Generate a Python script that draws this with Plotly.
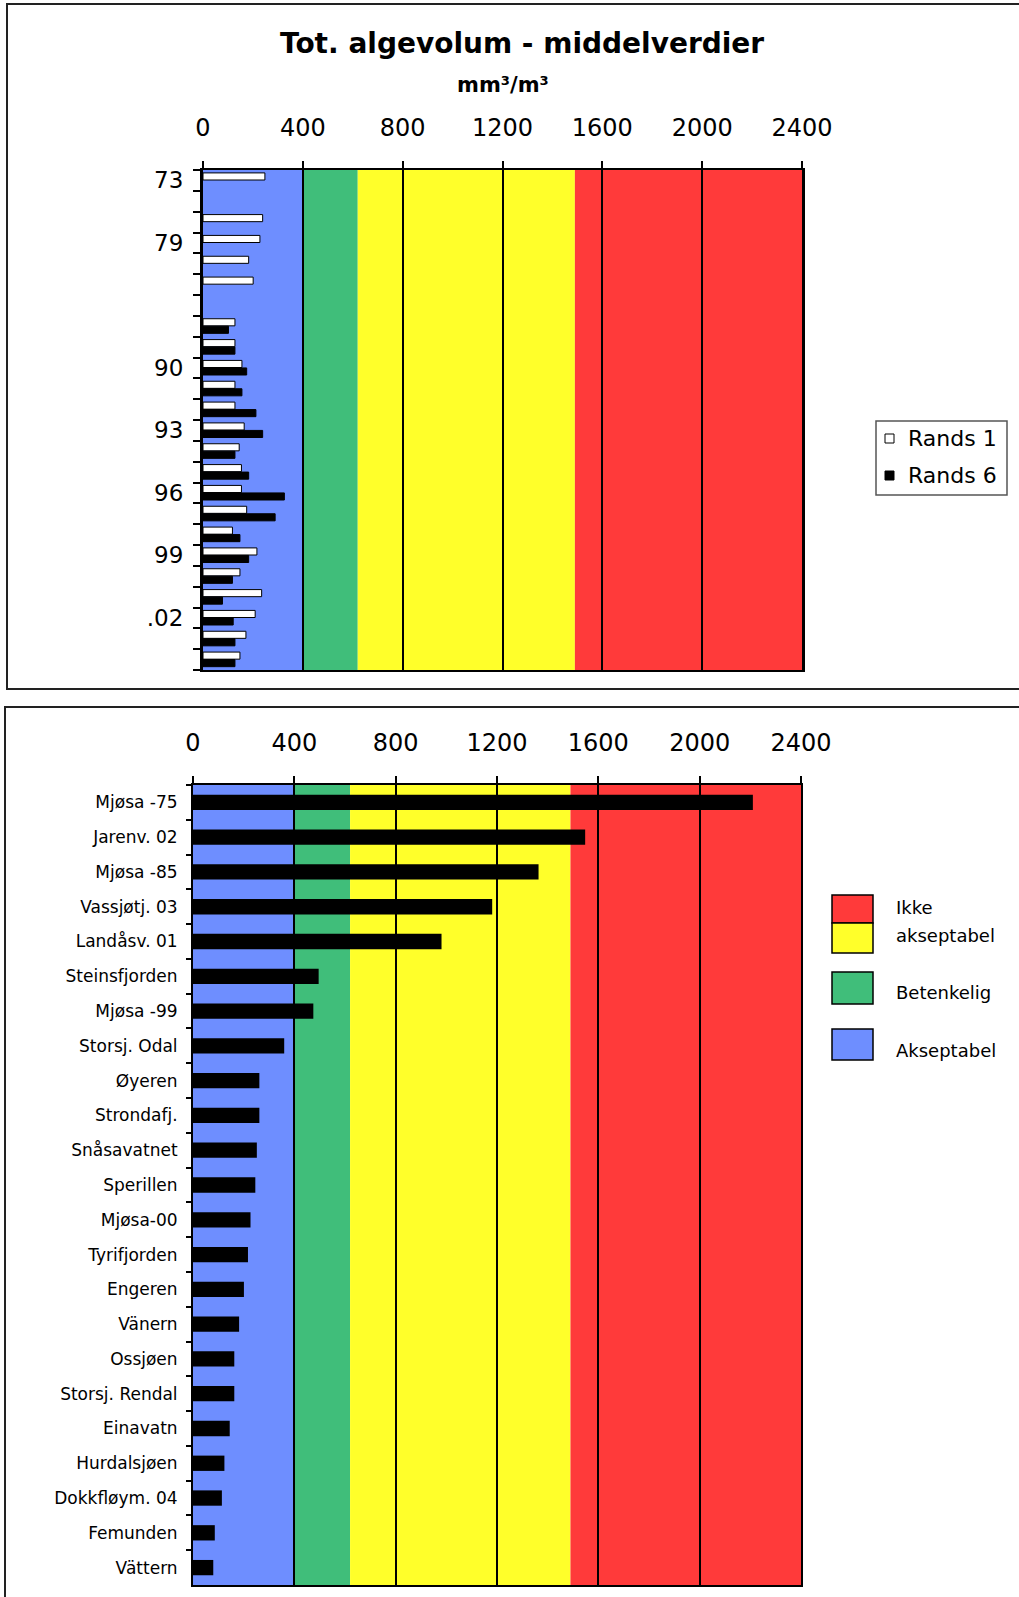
import plotly.graph_objects as go

# ---------------- data ----------------
YEAR_CATS = ["73", "75", "78", "79", "80", "81", "87", "88", "89", "90", "91", "92",
             "93", "94", "95", "96", "97", "98", "99", "00", "01", "02", "03", "04"]
YEAR_TICKS = ["73", "", "", "79", "", "", "", "", "", "90", "", "",
              "93", "", "", "96", "", "", "99", "", "", ".02", "", ""]
RANDS1 = [248, None, 239, 228, 183, 201, None, 128, 128, 156, 128, 128,
          165, 145, 154, 154, 175, 118, 216, 148, 235, 209, 172, 148]
RANDS6 = [None, None, None, None, None, None, None, 102, 128, 175, 156, 212,
          239, 128, 183, 326, 289, 148, 183, 118, 78, 121, 128, 128]
SERIES_NAMES = ["Rands 1", "Rands 6"]

LAKES = ["Mjøsa -75", "Jarenv. 02", "Mjøsa -85", "Vassjøtj. 03", "Landåsv. 01",
         "Steinsfjorden", "Mjøsa -99", "Storsj. Odal", "Øyeren", "Strondafj.",
         "Snåsavatnet", "Sperillen", "Mjøsa-00", "Tyrifjorden", "Engeren", "Vänern",
         "Ossjøen", "Storsj. Rendal", "Einavatn", "Hurdalsjøen", "Dokkfløym. 04",
         "Femunden", "Vättern"]
LAKE_VALUES = [2210, 1548, 1364, 1181, 981, 496, 475, 360, 262, 262, 252, 246, 227,
               217, 201, 182, 163, 163, 145, 124, 114, 86, 80]

X_TICKS = [0, 400, 800, 1200, 1600, 2000, 2400]
ZONE_EDGES = [0, 400, 620, 1490, 2400]
ZONE_COLORS = ["#6E8EFF", "#40BE7A", "#FFFF2A", "#FF3A3A"]
ZONE_LEGEND = ["Ikke", "akseptabel", "Betenkelig", "Akseptabel"]

TITLE = "Tot. algevolum - middelverdier"
SUBTITLE = "mm³/m³"

# ---------------- figure ----------------
W, H = 1019, 1597
OFF = 0  # page body margin removed via post_script
FONT = "DejaVu Sans"


def px(x):
    return (x - OFF) / W


def py(y):
    return 1 - (y - OFF) / H


fig = go.Figure()

fig.add_trace(go.Bar(orientation="h", y=YEAR_CATS, x=RANDS1, name=SERIES_NAMES[0],
                     marker=dict(color="white", line=dict(color="black", width=1)),
                     width=0.34, offset=-0.36, xaxis="x", yaxis="y", showlegend=False))
fig.add_trace(go.Bar(orientation="h", y=YEAR_CATS, x=RANDS6, name=SERIES_NAMES[1],
                     marker=dict(color="black", line=dict(color="black", width=1)),
                     width=0.34, offset=0.0, xaxis="x", yaxis="y", showlegend=False))
fig.add_trace(go.Bar(orientation="h", y=LAKES, x=LAKE_VALUES,
                     marker=dict(color="black", line=dict(color="black", width=0)),
                     width=0.44, xaxis="x2", yaxis="y2", showlegend=False))

shapes = []
for xr, yr in (("x", "y domain"), ("x2", "y2 domain")):
    for i, c in enumerate(ZONE_COLORS):
        shapes.append(dict(type="rect", xref=xr, yref=yr, x0=ZONE_EDGES[i], x1=ZONE_EDGES[i + 1],
                           y0=0, y1=1, fillcolor=c, line=dict(width=0), layer="below"))

# panel borders
shapes.append(dict(type="rect", xref="paper", yref="paper", x0=px(7), x1=px(1040),
                   y0=py(689), y1=py(4), line=dict(color="#222", width=2), fillcolor="rgba(0,0,0,0)"))
shapes.append(dict(type="rect", xref="paper", yref="paper", x0=px(5), x1=px(1040),
                   y0=py(1620), y1=py(707), line=dict(color="#222", width=2), fillcolor="rgba(0,0,0,0)"))

# top legend
shapes.append(dict(type="rect", xref="paper", yref="paper", x0=px(876), x1=px(1007),
                   y0=py(495), y1=py(421), line=dict(color="#555", width=1.5), fillcolor="white"))
shapes.append(dict(type="rect", xref="paper", yref="paper", x0=px(885), x1=px(894),
                   y0=py(443), y1=py(434), line=dict(color="black", width=1), fillcolor="white"))
shapes.append(dict(type="rect", xref="paper", yref="paper", x0=px(885), x1=px(894),
                   y0=py(480), y1=py(471), line=dict(color="black", width=1), fillcolor="black"))

# bottom legend
leg_boxes = [(895, 923, ZONE_COLORS[3]), (923, 953, ZONE_COLORS[2]),
             (972, 1004, ZONE_COLORS[1]), (1029, 1060, ZONE_COLORS[0])]
for y0, y1, c in leg_boxes:
    shapes.append(dict(type="rect", xref="paper", yref="paper", x0=px(832), x1=px(873),
                       y0=py(y1), y1=py(y0), line=dict(color="black", width=1.5), fillcolor=c))

annotations = [
    dict(text=f"<b>{TITLE}</b>", x=px(522), y=py(43), xref="paper", yref="paper",
         showarrow=False, font=dict(family=FONT, size=28, color="black"), xanchor="center", yanchor="middle"),
    dict(text=f"<b>{SUBTITLE}</b>", x=px(503), y=py(85), xref="paper", yref="paper",
         showarrow=False, font=dict(family=FONT, size=21, color="black"), xanchor="center", yanchor="middle"),
    dict(text=SERIES_NAMES[0], x=px(906), y=py(438), xref="paper", yref="paper",
         showarrow=False, font=dict(family=FONT, size=22, color="black"), xanchor="left", yanchor="middle"),
    dict(text=SERIES_NAMES[1], x=px(906), y=py(475), xref="paper", yref="paper",
         showarrow=False, font=dict(family=FONT, size=22, color="black"), xanchor="left", yanchor="middle"),
]
for txt, yy in zip(ZONE_LEGEND, [907, 935, 992, 1050]):
    annotations.append(dict(text=txt, x=px(894), y=py(yy), xref="paper", yref="paper",
                            showarrow=False, font=dict(family=FONT, size=18, color="black"),
                            xanchor="left", yanchor="middle"))

xcommon = dict(range=[0, 2400], tickmode="array", tickvals=X_TICKS, side="top",
               ticks="outside", ticklen=7, tickwidth=1.5, tickcolor="black",
               showline=True, linecolor="black", linewidth=1.5, mirror=True,
               showgrid=True, gridcolor="black", gridwidth=1.5, zeroline=False,
               tickfont=dict(family=FONT, size=24, color="black"), ticklabelstandoff=16,
               automargin=False, fixedrange=True)

fig.update_layout(
    width=W, height=H, autosize=False, margin=dict(l=0, r=0, t=0, b=0, pad=0, autoexpand=False),
    paper_bgcolor="white", plot_bgcolor="white",
    barmode="overlay", showlegend=False,
    shapes=shapes, annotations=annotations,
    xaxis=dict(domain=[px(203), px(802)], anchor="y", **xcommon),
    yaxis=dict(domain=[py(670), py(170)], anchor="x", type="category",
               categoryorder="array", categoryarray=YEAR_CATS, autorange="reversed",
               tickmode="array", tickvals=YEAR_CATS, ticktext=YEAR_TICKS, tickson="boundaries",
               ticks="outside", ticklen=7, tickwidth=1.5, tickcolor="black",
               showline=True, linecolor="black", linewidth=3, mirror=True, showgrid=False,
               tickfont=dict(family=FONT, size=23, color="black"), ticklabelstandoff=12,
               automargin=False, fixedrange=True),
    xaxis2=dict(domain=[px(193), px(801)], anchor="y2", **xcommon),
    yaxis2=dict(domain=[py(1585), py(785)], anchor="x2", type="category",
                categoryorder="array", categoryarray=LAKES, autorange="reversed",
                tickson="boundaries",
                ticks="outside", ticklen=5, tickwidth=1.5, tickcolor="black",
                showline=True, linecolor="black", linewidth=2, mirror=True, showgrid=False,
                tickfont=dict(family=FONT, size=17, color="black"), ticklabelstandoff=10,
                automargin=False, fixedrange=True),
)

fig.write_html("out.html", config={"responsive": False, "displayModeBar": False},
               post_script="document.body.style.margin='0';document.body.style.overflow='hidden';")
